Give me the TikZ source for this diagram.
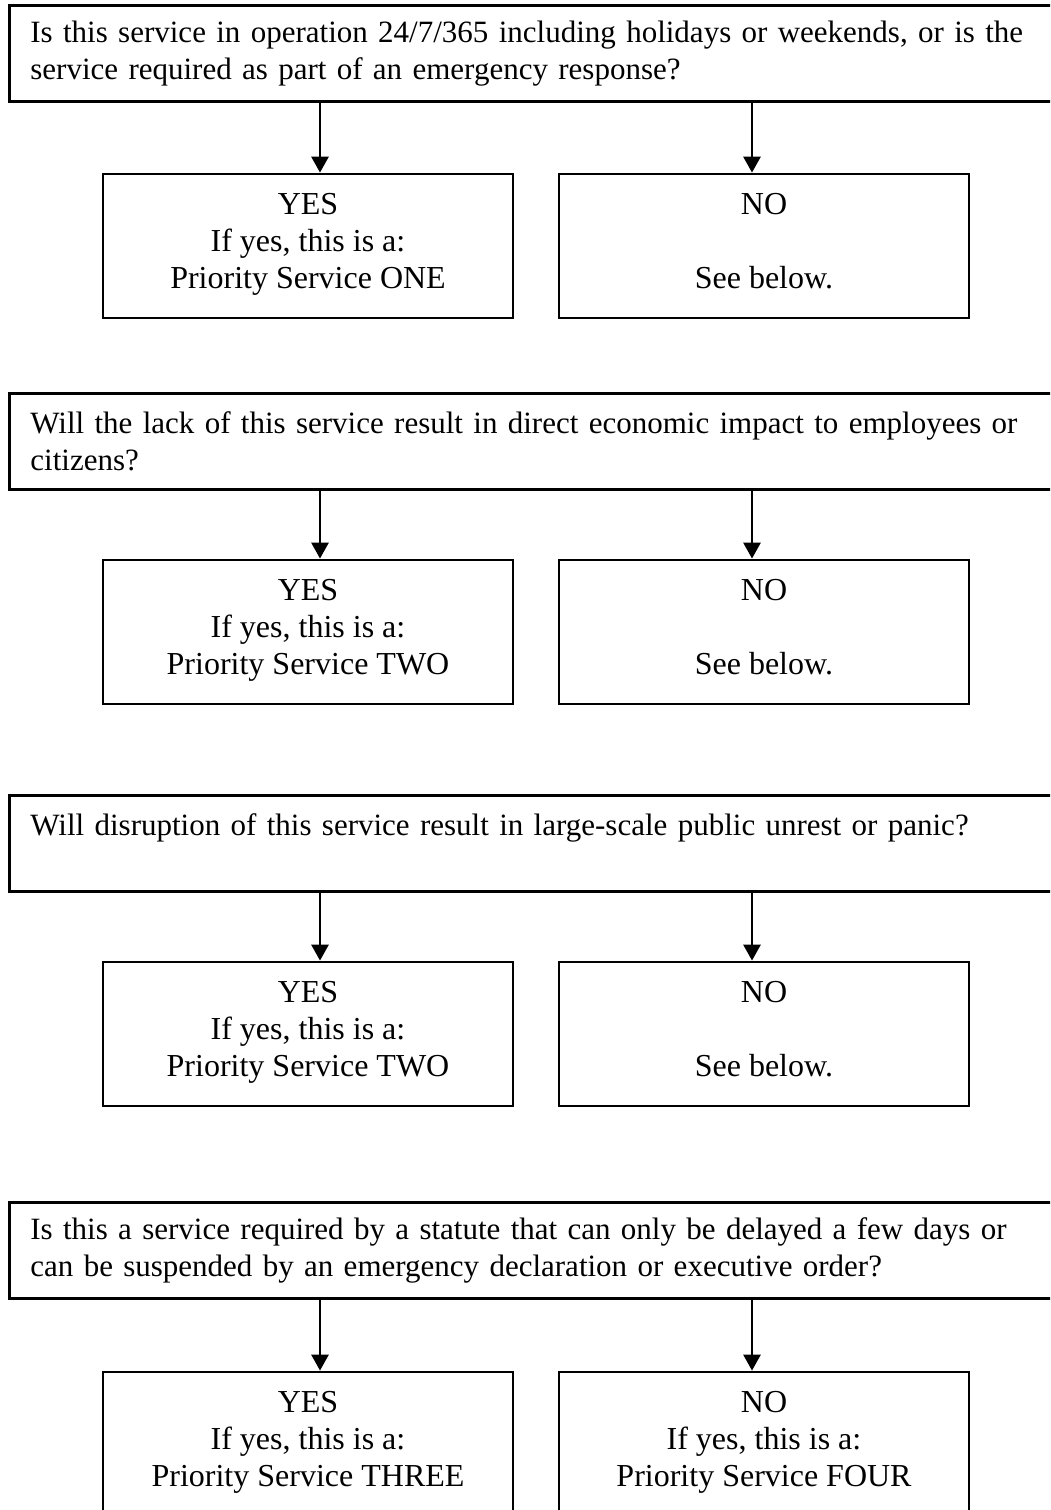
\documentclass[tikz,border=0pt]{standalone}
\usepackage{fontspec}
\setmainfont{Liberation Serif}
\usetikzlibrary{arrows.meta}

\begin{document}
\begin{tikzpicture}[x=0.5pt,y=-0.5pt,line width=1.4pt,
	every node/.style={font=\fontsize{15.5}{18.5}\selectfont},
	question/.style={draw,anchor=north west,minimum width=550pt,minimum height=48pt,
		text width=529pt,inner xsep=10.5pt,align=left},
	answer/.style={draw,minimum width=205pt,minimum height=72pt,align=center,
		font=\fontsize{16}{18.5}\selectfont,
		execute at begin node=\strut,execute at end node=\strut},
	arr/.style={-{Triangle[length=8pt,width=8.5pt]}}]
	\path[use as bounding box,clip] (0,0) rectangle (1050,1510);

	\node[question] (q1) at (8,4) {Is this service in operation 24/7/365 including holidays or weekends, or is the\\service required as part of an emergency response?};
	\node[answer] (yes1) at (308,246) {YES\\If yes, this is a:\\Priority Service ONE};
	\node[answer] (no1) at (764,246) {NO\\~\\See below.};

	\node[question] (q2) at (8,392) {Will the lack of this service result in direct economic impact to employees or\\citizens?};
	\node[answer] (yes2) at (308,632) {YES\\If yes, this is a:\\Priority Service TWO};
	\node[answer] (no2) at (764,632) {NO\\~\\See below.};

	\node[question] (q3) at (8,794) {Will disruption of this service result in large-scale public unrest or panic?\\~};
	\node[answer] (yes3) at (308,1034) {YES\\If yes, this is a:\\Priority Service TWO};
	\node[answer] (no3) at (764,1034) {NO\\~\\See below.};

	\node[question] (q4) at (8,1201) {Is this a service required by a statute that can only be delayed a few days or\\can be suspended by an emergency declaration or executive order?};
	\node[answer] (yes4) at (308,1444) {YES\\If yes, this is a:\\Priority Service THREE};
	\node[answer] (no4) at (764,1444) {NO\\If yes, this is a:\\Priority Service FOUR};

	\foreach \i in {1,2,3,4}{
		\draw[arr] ([xshift=6pt]yes\i.north |- q\i.south) -- ([xshift=6pt]yes\i.north);
		\draw[arr] ([xshift=-6pt]no\i.north |- q\i.south) -- ([xshift=-6pt]no\i.north);
	}
\end{tikzpicture}
\end{document}
